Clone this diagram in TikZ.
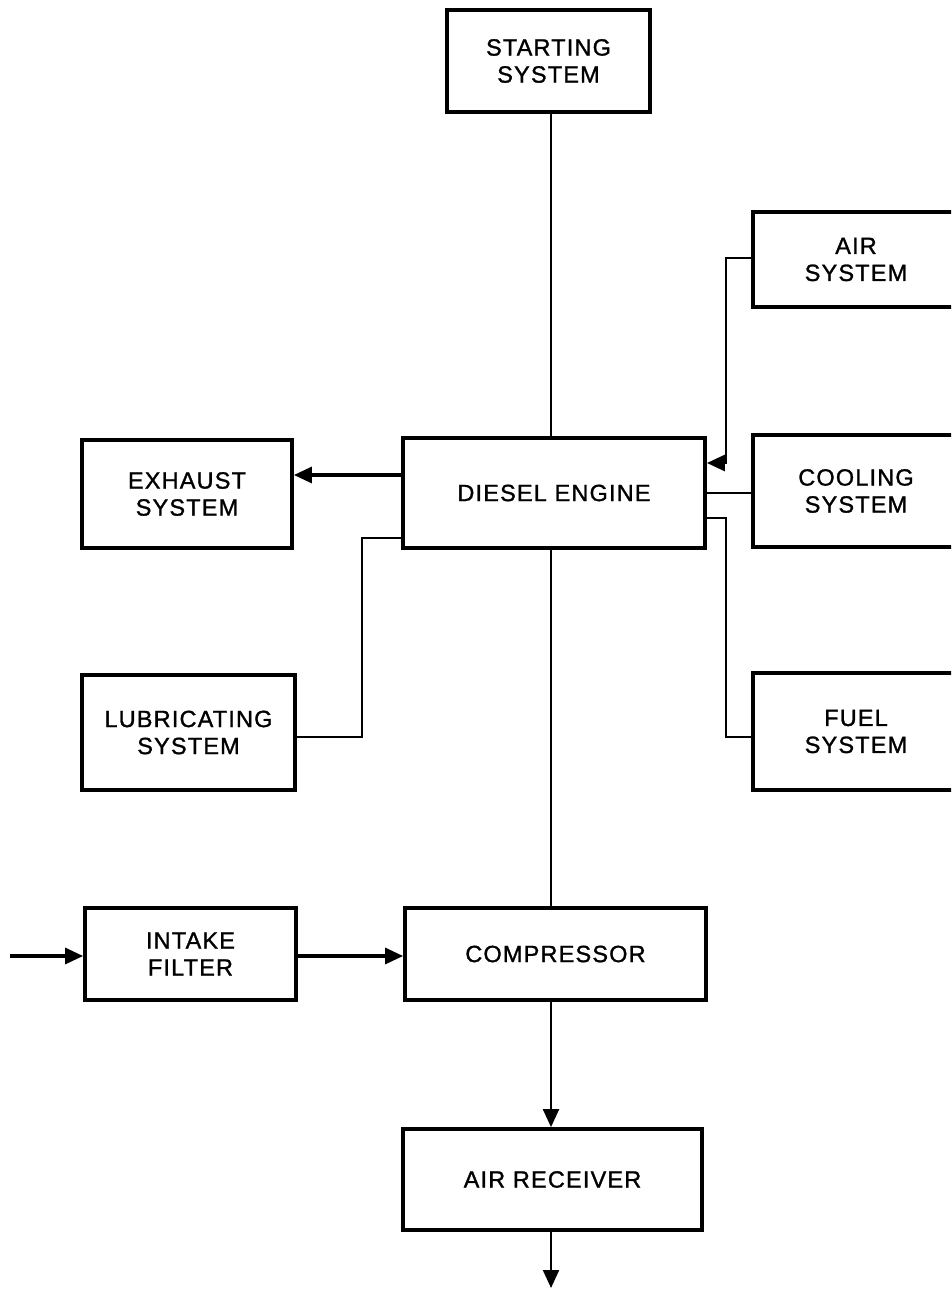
\documentclass[tikz,border=0pt]{standalone}
\usepackage{fontspec}
\setmainfont{Liberation Sans}
\newfontfamily\lblfont[LetterSpace=5,FakeBold=1.2]{Liberation Sans}
\usetikzlibrary{arrows.meta}
\begin{document}
\begin{tikzpicture}[x=1pt,y=-1pt,
  box/.style={draw,line width=3.8pt,align=center,inner sep=0pt,
    font=\lblfont\fontsize{23.5}{27}\selectfont},
  link/.style={line width=2.8pt},
  thinlink/.style={line width=2.2pt},
  arr/.style={-{Triangle[length=18pt,width=16pt]}},
]
\useasboundingbox (0,0) rectangle (951,1289);
\clip (0,0) rectangle (951,1289);
\fill[white] (0,0) rectangle (951,1289);
\node[box,minimum width=203pt,minimum height=102pt] (start) at (548.5,61) {STARTING\\SYSTEM};
\node[box,minimum width=206pt,minimum height=95pt] (air) at (856,259.5) {AIR\\SYSTEM};
\node[box,minimum width=302pt,minimum height=110pt] (diesel) at (554,493) {DIESEL ENGINE};
\node[box,minimum width=210pt,minimum height=108pt] (exh) at (187,494) {EXHAUST\\SYSTEM};
\node[box,minimum width=206pt,minimum height=112pt] (cool) at (856,491) {COOLING\\SYSTEM};
\node[box,minimum width=213pt,minimum height=115pt] (lub) at (188.5,732.5) {LUBRICATING\\SYSTEM};
\node[box,minimum width=206pt,minimum height=117pt] (fuel) at (856,731.5) {FUEL\\SYSTEM};
\node[box,minimum width=211pt,minimum height=92pt] (intake) at (190.5,954) {INTAKE\\FILTER};
\node[box,minimum width=301pt,minimum height=92pt] (comp) at (555.5,954) {COMPRESSOR};
\node[box,minimum width=299pt,minimum height=101pt] (recv) at (552.5,1179.5) {AIR RECEIVER};
% helper coordinates (x of vertical runs, y of horizontal runs)
\coordinate (spine) at (551,0);
\coordinate (inlet) at (10,956);
\coordinate (outlet) at (551,1288);
\coordinate (rbus) at (726,0);
\coordinate (lbus) at (362,0);
\coordinate (yexh) at (0,475);
\coordinate (yair) at (0,258);
\coordinate (yairin) at (0,463);
\coordinate (ycool) at (0,493);
\coordinate (yfuelout) at (0,518);
\coordinate (yfuelin) at (0,737);
\coordinate (yluout) at (0,538);
\coordinate (yluin) at (0,737);
% spine
\draw[thinlink] (start.south -| spine) -- (diesel.north -| spine);
\draw[thinlink] (diesel.south -| spine) -- (comp.north -| spine);
\draw[thinlink,arr] (comp.south -| spine) -- (recv.north -| spine);
\draw[thinlink,arr] (recv.south -| spine) -- (outlet);
% intake
\draw[link,arr,line width=3.2pt] (inlet) -- (intake.west |- inlet);
\draw[link,arr,line width=3.2pt] (intake.east |- inlet) -- (comp.west |- inlet);
% exhaust
\draw[link,arr,line width=3.2pt] (diesel.west |- yexh) -- (exh.east |- yexh);
% air system
\draw[link,arr] (air.west |- yair) -| (rbus |- yairin) -- (diesel.east |- yairin);
% cooling
\draw[link] (diesel.east |- ycool) -- (cool.west |- ycool);
% fuel
\draw[link] (diesel.east |- yfuelout) -| (rbus |- yfuelin) -- (fuel.west |- yfuelin);
% lubricating
\draw[link] (diesel.west |- yluout) -| (lbus |- yluin) -- (lub.east |- yluin);
\end{tikzpicture}
\end{document}
